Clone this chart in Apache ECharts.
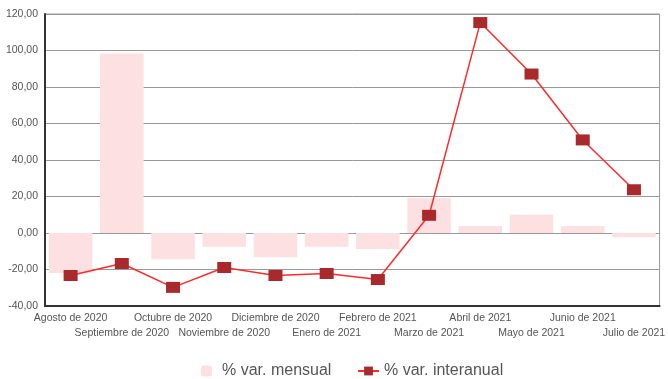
<!DOCTYPE html>
<html>
<head>
<meta charset="utf-8">
<script src="https://cdn.jsdelivr.net/npm/echarts@6/dist/echarts.min.js"></script>
<style>
  html, body { margin: 0; padding: 0; background: #fff; }
  #chart { width: 668px; height: 379px; }
</style>
</head>
<body>
<div id="chart"></div>
<script>
const months = ['Agosto de 2020', 'Septiembre de 2020', 'Octubre de 2020', 'Noviembre de 2020',
  'Diciembre de 2020', 'Enero de 2021', 'Febrero de 2021', 'Marzo de 2021',
  'Abril de 2021', 'Mayo de 2021', 'Junio de 2021', 'Julio de 2021'];
const mensual = [-21.9, 98.4, -14.4, -7.6, -13.3, -7.6, -8.7, 19.0, 3.8, 10.2, 3.8, -2.3];
const interanual = [-23.3, -16.7, -29.8, -18.9, -23.3, -22.2, -25.5, 9.7, 115.3, 87.1, 51.0, 23.7];
const yTicks = [-40, -20, 0, 20, 40, 60, 80, 100, 120];

const fontName = '"Liberation Sans", Arial, sans-serif';

const chart = echarts.init(document.getElementById('chart'));

chart.setOption({
  animation: false,
  legend: [
    {
      data: ['% var. mensual'],
      left: 196,
      top: 358,
      itemWidth: 11,
      itemHeight: 11,
      textStyle: { fontFamily: fontName, fontSize: 16, color: '#555', padding: [0, 0, 0, 5] }
    },
    {
      data: ['% var. interanual'],
      left: 352,
      top: 358,
      itemWidth: 21,
      itemHeight: 11,
      textStyle: { fontFamily: fontName, fontSize: 16, color: '#555' }
    }
  ],
  grid: {
    left: 45,
    right: 4,
    top: 14,
    bottom: 73,
    show: true,
    borderColor: '#999',
    borderWidth: 1
  },
  xAxis: {
    type: 'category',
    data: months,
    boundaryGap: true,
    axisTick: { show: false },
    axisLine: { onZero: false, lineStyle: { color: '#333', width: 2 } },
    axisLabel: {
      interval: 0,
      margin: 5,
      fontFamily: fontName,
      fontSize: 10.5,
      lineHeight: 15,
      color: '#555',
      formatter: function (v, i) {
        return i % 2 ? '\n' + v : v;
      }
    }
  },
  yAxis: {
    type: 'value',
    min: yTicks[0],
    max: yTicks[yTicks.length - 1],
    interval: 20,
    axisLine: { show: true, lineStyle: { color: '#333', width: 2 } },
    axisTick: { show: false },
    splitLine: { lineStyle: { color: '#999', width: 1 } },
    axisLabel: {
      margin: 7,
      fontFamily: fontName,
      fontSize: 10.5,
      color: '#555',
      formatter: function (v) {
        return v.toFixed(2).replace('.', ',');
      }
    }
  },
  series: [
    {
      name: '% var. mensual',
      type: 'bar',
      data: mensual,
      barCategoryGap: '15%',
      itemStyle: { color: '#fde0e1' }
    },
    {
      name: '% var. interanual',
      type: 'line',
      data: interanual,
      symbol: 'rect',
      symbolSize: [14, 11],
      itemStyle: { color: '#a82a2c' },
      lineStyle: { color: '#ff2b2b', width: 1.5 },
      z: 3
    }
  ]
});
</script>
</body>
</html>
